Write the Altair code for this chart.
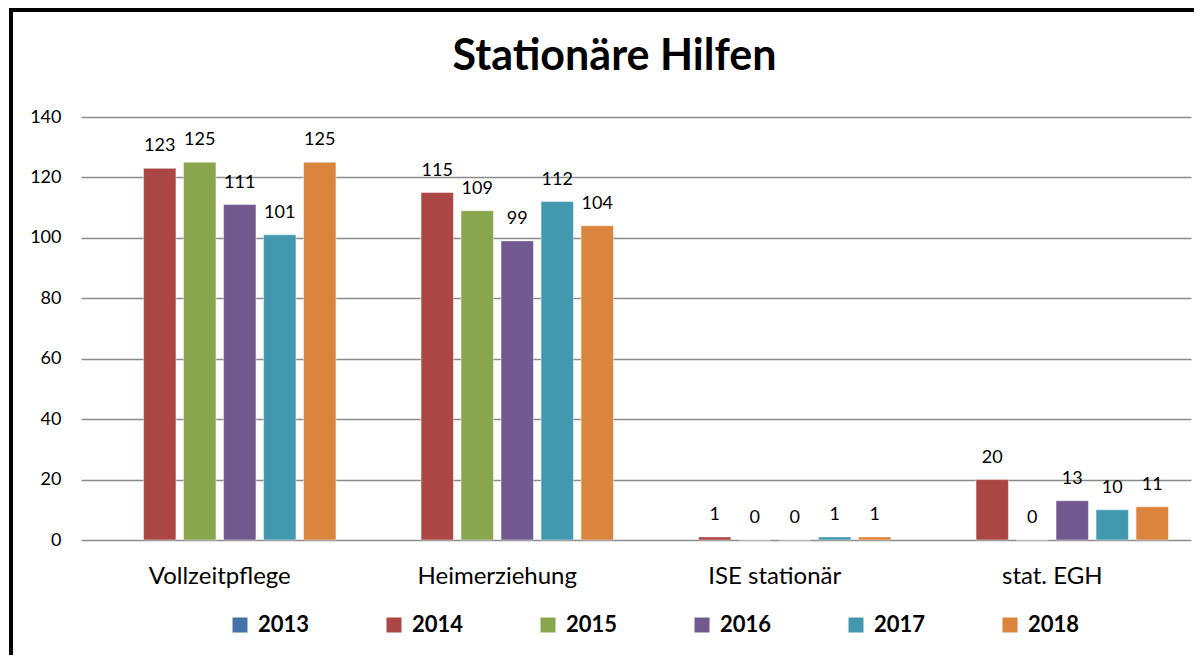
import altair as alt
import pandas as pd

# ---- data ----
categories = ["Vollzeitpflege", "Heimerziehung", "ISE stationär", "stat. EGH"]
years = ["2013", "2014", "2015", "2016", "2017", "2018"]
v2013 = [None, None, None, None]
v2014 = [123, 115, 1, 20]
v2015 = [125, 109, 0, 0]
v2016 = [111, 99, 0, 13]
v2017 = [101, 112, 1, 10]
v2018 = [125, 104, 1, 11]
colors = ["#4572A7", "#AA4643", "#89A54E", "#71588F", "#4198AF", "#DB843D"]
title_text = ["Stationäre Hilfen"]
y_ticks = [0, 20, 40, 60, 80, 100, 120, 140]

series = dict(zip(years, [v2013, v2014, v2015, v2016, v2017, v2018]))
rows = []
for yr, vals in series.items():
    for cat, val in zip(categories, vals):
        rows.append({"Kategorie": cat, "Jahr": yr, "Wert": val})
df = pd.DataFrame(rows)

FONT = "Lato"

x_enc = alt.X(
    "Kategorie:N",
    sort=categories,
    scale=alt.Scale(domain=categories, paddingInner=0.1625, paddingOuter=0.08125),
    axis=alt.Axis(
        title=None, labelAngle=0, labelFont=FONT, labelFontSize=24,
        labelColor="#000000", labelBaseline="alphabetic", labelPadding=43,
        ticks=False, domain=False, grid=False,
    ),
)
xoff_enc = alt.XOffset(
    "Jahr:N", scale=alt.Scale(domain=years, paddingInner=0.19, paddingOuter=0)
)
y_enc = alt.Y(
    "Wert:Q",
    scale=alt.Scale(domain=[0, 140], nice=False, zero=True),
    axis=alt.Axis(
        title=None, values=y_ticks, grid=True, gridColor="#8c8c8c", gridWidth=1.4,
        domain=False, ticks=False, labelPadding=20, labelFont=FONT,
        labelFontSize=18, labelColor="#000000",
    ),
)

base = alt.Chart(df).encode(x=x_enc, xOffset=xoff_enc)

bars = base.mark_bar(stroke="#ffffff", strokeOpacity=0.45, strokeWidth=1).encode(
    y=y_enc,
    color=alt.Color(
        "Jahr:N",
        scale=alt.Scale(domain=years, range=colors),
        legend=alt.Legend(
            title=None, orient="none", legendX=148, legendY=497,
            direction="horizontal", columns=6, columnPadding=73,
            symbolType="square", symbolSize=225, symbolStrokeWidth=0,
            symbolOpacity=1, labelFont=FONT, labelFontSize=22,
            labelFontWeight="bold", labelColor="#000000", labelOffset=7,
            padding=0,
        ),
    ),
)

labels = base.transform_filter("isValid(datum.Wert)").mark_text(
    baseline="alphabetic", dy=-17, font=FONT, fontSize=18, color="#000000"
).encode(y=y_enc, text=alt.Text("Wert:Q", format="d"))

title = alt.Chart(pd.DataFrame({"t": title_text})).mark_text(
    font=FONT, fontSize=43, fontWeight="bold", color="#000000",
    baseline="alphabetic", align="center",
).encode(text="t:N", x=alt.value(533.5), y=alt.value(-47))

frame = alt.Chart(pd.DataFrame({"f": [0]})).mark_rect(
    filled=False, stroke="#000000", strokeWidth=4
).encode(
    x=alt.value(-70), x2=alt.value(1400), y=alt.value(-107), y2=alt.value(900)
)

chart = alt.layer(frame, bars, labels, title).properties(
    width=1110,
    height=423,
    padding={"left": 73, "top": 109, "right": 3, "bottom": 115},
    autosize=alt.AutoSizeParams(type="none"),
).configure_view(stroke=None)

chart.save("out.html", embed_options={"renderer": "svg", "actions": False})
